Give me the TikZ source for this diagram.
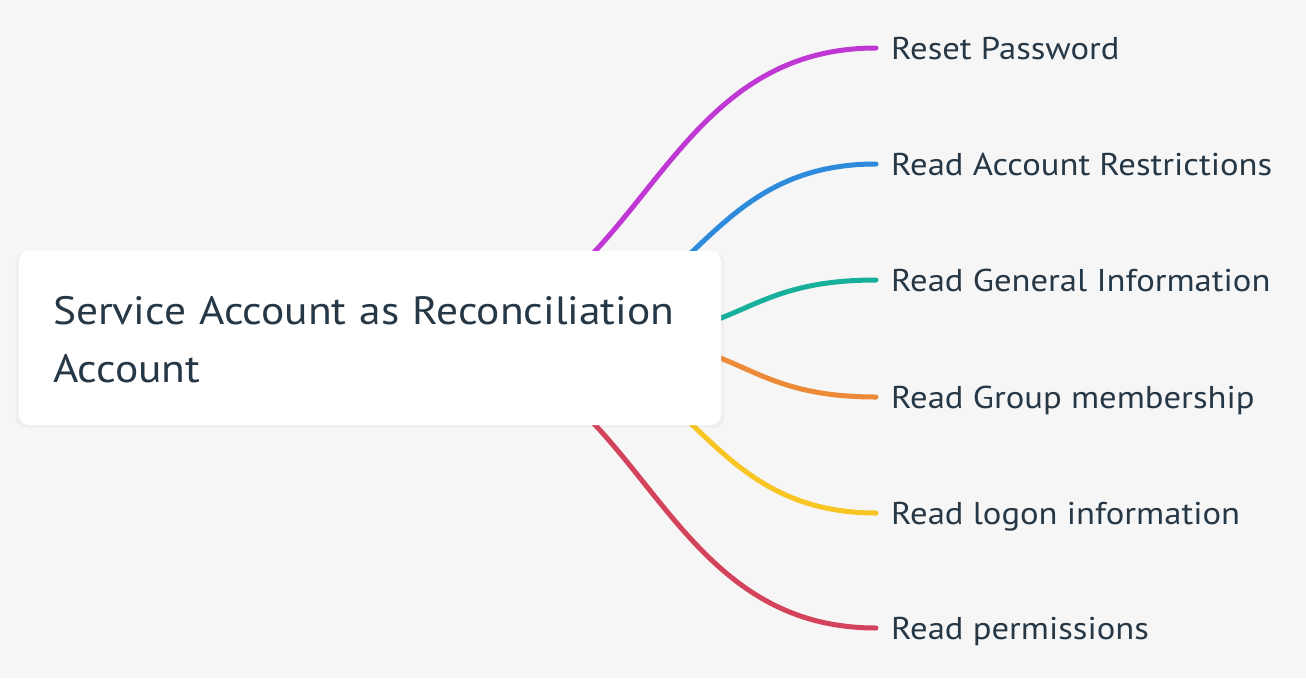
\documentclass[tikz,border=0pt]{standalone}
\usepackage{fontspec}
\setmainfont[FakeStretch=1.1]{PT Sans}
\usetikzlibrary{calc,shadows}
\definecolor{bg}{HTML}{F6F6F6}
\definecolor{ink}{HTML}{263746}
\definecolor{cpurple}{HTML}{BF38D3}
\definecolor{cblue}{HTML}{2E8BDB}
\definecolor{cteal}{HTML}{17B09A}
\definecolor{corange}{HTML}{EC8A38}
\definecolor{cyellow}{HTML}{F8C523}
\definecolor{cred}{HTML}{D3435B}
\begin{document}
\begin{tikzpicture}[x=1pt,y=-1pt,
  branch/.style={line width=5pt, line cap=round},
  leaf/.style={anchor=west, inner sep=0pt, text height=22pt, text depth=0pt,
    text=ink, font=\fontsize{31.5}{36}\selectfont},
  rootbox/.style={fill=white, rounded corners=10pt, minimum width=702pt,
    minimum height=174pt, inner xsep=34pt, text width=634pt, align=left,
    text=ink, font=\fontsize{39.5}{58}\selectfont,
    drop shadow={opacity=0.05, shadow xshift=0pt, shadow yshift=-2pt, shadow scale=1.01}}]
\useasboundingbox[fill=bg] (0,0) rectangle (1306,678);
% leaves
\node[leaf] (l1) at (891,48)  {Reset Password};
\node[leaf] (l2) at (891,164) {Read Account Restrictions};
\node[leaf] (l3) at (891,280) {Read General Information};
\node[leaf] (l4) at (891,397) {Read Group membership};
\node[leaf] (l5) at (891,513) {Read logon information};
\node[leaf] (l6) at (891,628) {Read permissions};
% root position reference
\coordinate (rc) at (370,338);
% branches (drawn beneath the root box)
\draw[branch, cpurple] ([xshift=42pt]rc) .. controls +(232,0) and +(-232,0) .. ([xshift=-15pt]l1.west);
\draw[branch, cblue]   ([xshift=140pt]rc) .. controls +(183,0) and +(-183,0) .. ([xshift=-15pt]l2.west);
\draw[branch, cteal]   ([xshift=239pt]rc) .. controls +(134,0) and +(-134,0) .. ([xshift=-15pt]l3.west);
\draw[branch, corange] ([xshift=239pt]rc) .. controls +(134,0) and +(-134,0) .. ([xshift=-15pt]l4.west);
\draw[branch, cyellow] ([xshift=140pt]rc) .. controls +(183,0) and +(-183,0) .. ([xshift=-15pt]l5.west);
\draw[branch, cred]    ([xshift=42pt]rc) .. controls +(232,0) and +(-232,0) .. ([xshift=-15pt]l6.west);
% root
\node[rootbox] (root) at (rc) {\rule{0pt}{31pt}Service Account as Reconciliation\\Account};
\end{tikzpicture}
\end{document}
